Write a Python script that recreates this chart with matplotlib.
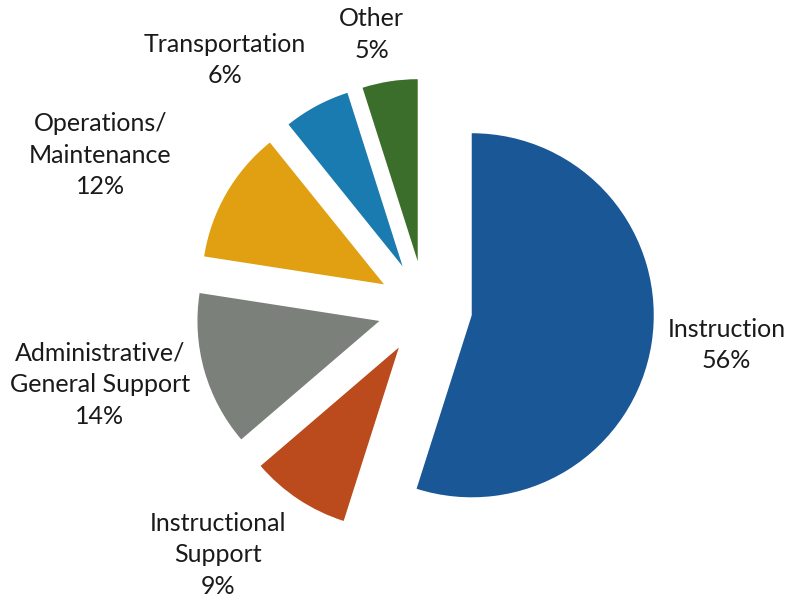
import matplotlib.pyplot as plt
import numpy as np

categories = ["Instruction", "Instructional\nSupport", "Administrative/\nGeneral Support",
              "Operations/\nMaintenance", "Transportation", "Other"]
shares = [56, 9, 14, 12, 6, 5]
pct_labels = ["56%", "9%", "14%", "12%", "6%", "5%"]

colors = ["#1a5796", "#bb4a1c", "#7b807b", "#e0a011", "#1a7bb0", "#3a6e2a"]

# label placement: (distance from centre in radii, angle in degrees)
label_place = [(1.67, -7.0), (1.77, 230.0), (1.835, 193.3),
               (1.97, 154.8), (1.75, 128.9), (1.53, 101.0)]

plt.rcParams['font.family'] = ['Lato', 'DejaVu Sans']

fig = plt.figure(figsize=(7.89, 6.04), dpi=100)
ax = fig.add_axes([0, 0, 1, 1])

wedges, _ = ax.pie(shares, colors=colors, startangle=90, counterclock=False,
                   explode=[0.26] * len(shares), radius=1.0,
                   wedgeprops=dict(linewidth=0))

for (dist, ang), cat, pct in zip(label_place, categories, pct_labels):
    a = np.deg2rad(ang)
    ax.text(dist * np.cos(a), dist * np.sin(a), f"{cat}\n{pct}",
            ha="center", va="center", fontsize=18, color="#1a1a1a",
            linespacing=1.45)

ax.set_xlim(-2.335, 2.0)
ax.set_ylim(-1.626, 1.692)
ax.set_aspect("auto")
ax.axis("off")

fig.savefig("out.png", dpi=100)
